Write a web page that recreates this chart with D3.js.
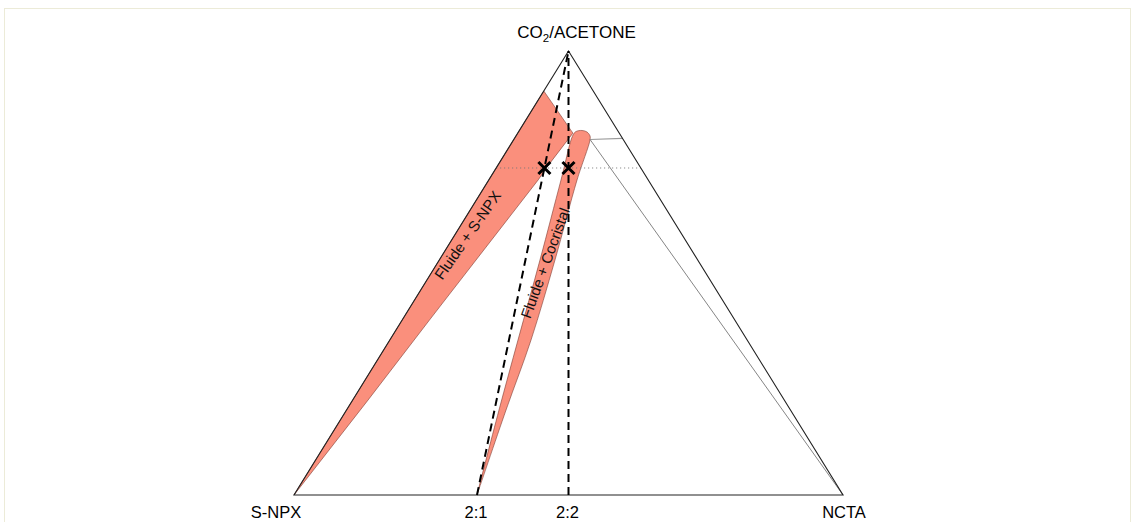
<!DOCTYPE html>
<html><head><meta charset="utf-8">
<script src="https://cdn.jsdelivr.net/npm/d3@7"></script>
<style>
html,body{margin:0;padding:0;background:#fff;}
svg{display:block;font-family:"Liberation Sans",Arial,sans-serif;}
</style></head>
<body><div id="chart"></div>
<script>
// ---- data (ternary fractions: co2 = CO2/ACETONE, ncta = NCTA; S-NPX = 1 - co2 - ncta)
const vertexNames = ["S-NPX", "NCTA"];
const topName = ["CO", "2", "/ACETONE"];
const ratioLabels = ["2:1", "2:2"];
const ratioNCTA = [1/3, 1/2];

const snpxRegionCO2  = [0, 0.910, 0.815, 0.739, 0.710, 0.439, 0.394, 0.214, 0];
const snpxRegionNCTA = [0, 0.000, 0.1005, 0.0915, 0.090, 0.0554, 0.0497, 0.028, 0];

const cocrystalCO2  = [0, 0.1914, 0.349, 0.529, 0.7095, 0.8108, 0.8187, 0.821, 0.8176, 0.8086, 0.7995, 0.7095, 0.529, 0.349, 0.1914, 0];
const cocrystalNCTA = [0.3333, 0.2777, 0.2335, 0.1835, 0.1316, 0.1028, 0.1044, 0.1141, 0.1249, 0.1349, 0.1394, 0.1608, 0.2108, 0.2572, 0.2905, 0.3333];

const tieShortCO2  = [0.8007, 0.8034];
const tieShortNCTA = [0.1389, 0.1966];
const tieLongCO2   = [0.8007, 0];
const tieLongNCTA  = [0.1389, 1];

const levelCO2 = 0.7365;
const regionLabels = ["Fluide + S-NPX", "Fluide + Cocristal"];
const regionLabelCO2 = [0.5856, 0.5225];
const regionLabelNCTA = [0.0233, 0.1960];
const regionLabelAngle = [-55, -70];

// ---- layout
const W = 1136, H = 522;
const x = d3.scaleLinear().domain([0, 1]).range([294, 843]);
const y = d3.scaleLinear().domain([0, 1]).range([495, 51]);
const P = (a, c) => [x(c + a / 2), y(a)];

const svg = d3.select("#chart").append("svg").attr("width", W).attr("height", H);

svg.append("rect").attr("x", 4.5).attr("y", 8.5).attr("width", 1126).attr("height", 530)
  .attr("fill", "none").attr("stroke", "#ecebd8").attr("stroke-width", 1);

const line = d3.line();

// regions
const fillCol = "#fa8f7c", edgeCol = "#7d3b30";
svg.append("path")
  .attr("d", line(snpxRegionCO2.map((a, i) => P(a, snpxRegionNCTA[i]))) + "Z")
  .attr("fill", fillCol).attr("stroke", edgeCol).attr("stroke-width", 0.6);
svg.append("path")
  .attr("d", d3.line().curve(d3.curveCatmullRom.alpha(0.5))(cocrystalCO2.map((a, i) => P(a, cocrystalNCTA[i]))) + "Z")
  .attr("fill", fillCol).attr("stroke", edgeCol).attr("stroke-width", 0.6);

// tie lines
svg.append("path").attr("d", line(tieShortCO2.map((a, i) => P(a, tieShortNCTA[i]))))
  .attr("stroke", "#9a9a9a").attr("stroke-width", 1.2).attr("fill", "none");
svg.append("path").attr("d", line(tieLongCO2.map((a, i) => P(a, tieLongNCTA[i]))))
  .attr("stroke", "#777").attr("stroke-width", 0.9).attr("fill", "none");

// dotted level line
svg.append("path").attr("d", line([P(levelCO2, 0), P(levelCO2, 1 - levelCO2)]))
  .attr("stroke", "#777").attr("stroke-width", 1).attr("stroke-dasharray", "1,3").attr("fill", "none");

// triangle
svg.append("path").attr("d", line([P(0, 0), P(0, 1), P(1, 0)]) + "Z")
  .attr("fill", "none").attr("stroke", "#222").attr("stroke-width", 1.1);

// dashed ratio lines
ratioNCTA.forEach(r => {
  svg.append("path").attr("d", line([P(0, r), P(1, 0)]))
    .attr("stroke", "#000").attr("stroke-width", 2).attr("stroke-dasharray", "8,5").attr("fill", "none");
});

// crosses
ratioNCTA.forEach(r => {
  const [cx, cy] = P(levelCO2, r * (1 - levelCO2));
  const s = 6;
  svg.append("path").attr("d", `M${cx - s},${cy - s}L${cx + s},${cy + s}M${cx - s},${cy + s}L${cx + s},${cy - s}`)
    .attr("stroke", "#000").attr("stroke-width", 3).attr("fill", "none");
});

// region labels
regionLabels.forEach((t, i) => {
  const [lx, ly] = P(regionLabelCO2[i], regionLabelNCTA[i]);
  svg.append("text").attr("transform", `translate(${lx},${ly}) rotate(${regionLabelAngle[i]})`)
    .attr("text-anchor", "middle").attr("dominant-baseline", "central")
    .attr("font-size", 15).attr("fill", "#111").text(t);
});

// vertex labels
const fs = 16.5;
svg.append("text").attr("x", x(0) - 18).attr("y", 518).attr("text-anchor", "middle").attr("font-size", fs).text(vertexNames[0]);
svg.append("text").attr("x", x(1) + 1).attr("y", 518).attr("text-anchor", "middle").attr("font-size", fs).text(vertexNames[1]);
ratioNCTA.forEach((r, i) => {
  svg.append("text").attr("x", x(r) - 1).attr("y", 518).attr("text-anchor", "middle").attr("font-size", fs).text(ratioLabels[i]);
});
const tt = svg.append("text").attr("x", x(0.5) + 8).attr("y", 38).attr("text-anchor", "middle").attr("font-size", 17);
tt.append("tspan").text(topName[0]);
tt.append("tspan").attr("font-size", 11.5).attr("dy", 4).text(topName[1]);
tt.append("tspan").attr("dy", -4).text(topName[2]);
</script>
</body></html>
